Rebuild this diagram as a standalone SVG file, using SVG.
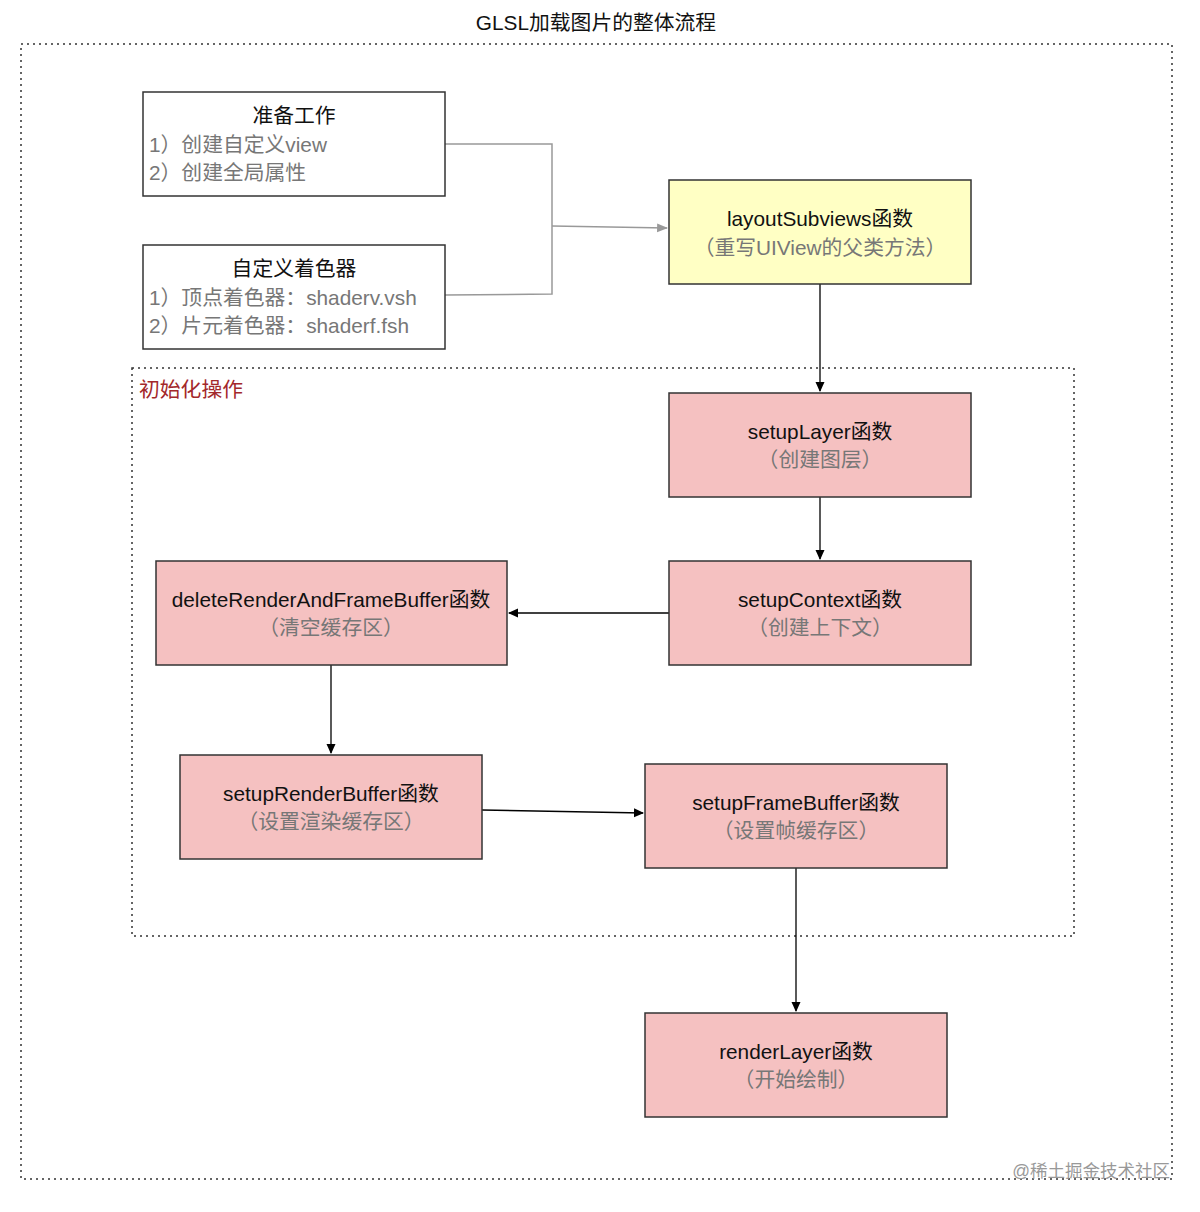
<svg xmlns="http://www.w3.org/2000/svg" width="1200" height="1212" viewBox="0 0 1200 1212">
<style>
text{font-family:"Liberation Sans","Noto Sans CJK SC",sans-serif;font-size:20.8px;}
.t{fill:#111;text-anchor:middle;}
.s{fill:#777;text-anchor:middle;}
.l{fill:#777;}
.box{stroke:#333;stroke-width:1.5;}
.w{fill:#fff;}
.y{fill:#ffffc4;}
.p{fill:#f5c1c1;}
.dash{fill:none;stroke:#333;stroke-width:1.5;stroke-dasharray:2 4;}
.c{fill:none;stroke:#000;stroke-width:1.3;}
.g{fill:none;stroke:#999;stroke-width:1.5;}
</style>
<defs>
<marker id="a" viewBox="0 0 10 10" refX="9" refY="5" markerWidth="10" markerHeight="10" markerUnits="userSpaceOnUse" orient="auto"><path d="M0,0.5 L10,5 L0,9.5 z" fill="#000"/></marker>
<marker id="ag" viewBox="0 0 10 10" refX="9" refY="5" markerWidth="11" markerHeight="11" markerUnits="userSpaceOnUse" orient="auto"><path d="M0,1 L10,5 L0,9 z" fill="#999"/></marker>
</defs>
<rect width="1200" height="1212" fill="#fff"/>
<text x="596" y="30" class="t">GLSL加载图片的整体流程</text>
<rect x="21" y="44" width="1151" height="1135" class="dash"/>
<g id="init-group">
<rect x="132" y="368" width="942" height="568" class="dash"/>
<text x="139" y="397" fill="#a3282b">初始化操作</text>
</g>
<g id="connectors">
<polyline points="445,144 552,144 552,294 445,295" class="g"/>
<line x1="552" y1="226" x2="667" y2="228" class="g" marker-end="url(#ag)"/>
<line x1="820" y1="284" x2="820" y2="391" class="c" marker-end="url(#a)"/>
<line x1="820" y1="497" x2="820" y2="559" class="c" marker-end="url(#a)"/>
<line x1="669" y1="613" x2="509" y2="613" class="c" marker-end="url(#a)"/>
<line x1="331" y1="665" x2="331" y2="753" class="c" marker-end="url(#a)"/>
<line x1="482" y1="810" x2="643" y2="813" class="c" marker-end="url(#a)"/>
<line x1="796" y1="868" x2="796" y2="1011" class="c" marker-end="url(#a)"/>
</g>
<g id="prep">
<rect x="143" y="92" width="302" height="104" class="box w"/>
<text x="294" y="123" class="t">准备工作</text>
<text x="149" y="152" class="l">1）创建自定义view</text>
<text x="149" y="180" class="l">2）创建全局属性</text>
</g>
<g id="shader">
<rect x="143" y="245" width="302" height="104" class="box w"/>
<text x="294" y="276" class="t">自定义着色器</text>
<text x="149" y="305" class="l">1）顶点着色器：shaderv.vsh</text>
<text x="149" y="333" class="l">2）片元着色器：shaderf.fsh</text>
</g>
<g id="layoutSubviews">
<rect x="669" y="180" width="302" height="104" class="box y"/>
<text x="820" y="226" class="t">layoutSubviews函数</text>
<text x="820" y="255" class="s">（重写UIView的父类方法）</text>
</g>
<g id="setupLayer">
<rect x="669" y="393" width="302" height="104" class="box p"/>
<text x="820" y="439" class="t">setupLayer函数</text>
<text x="820" y="467" class="s">（创建图层）</text>
</g>
<g id="setupContext">
<rect x="669" y="561" width="302" height="104" class="box p"/>
<text x="820" y="607" class="t">setupContext函数</text>
<text x="820" y="635" class="s">（创建上下文）</text>
</g>
<g id="deleteBuffer">
<rect x="156" y="561" width="351" height="104" class="box p"/>
<text x="331" y="607" class="t">deleteRenderAndFrameBuffer函数</text>
<text x="331" y="635" class="s">（清空缓存区）</text>
</g>
<g id="setupRenderBuffer">
<rect x="180" y="755" width="302" height="104" class="box p"/>
<text x="331" y="801" class="t">setupRenderBuffer函数</text>
<text x="331" y="829" class="s">（设置渲染缓存区）</text>
</g>
<g id="setupFrameBuffer">
<rect x="645" y="764" width="302" height="104" class="box p"/>
<text x="796" y="810" class="t">setupFrameBuffer函数</text>
<text x="796" y="838" class="s">（设置帧缓存区）</text>
</g>
<g id="renderLayer">
<rect x="645" y="1013" width="302" height="104" class="box p"/>
<text x="796" y="1059" class="t">renderLayer函数</text>
<text x="796" y="1087" class="s">（开始绘制）</text>
</g>
<text x="1170" y="1177" fill="#999" style="font-size:17.5px;text-anchor:end">@稀土掘金技术社区</text>
</svg>
